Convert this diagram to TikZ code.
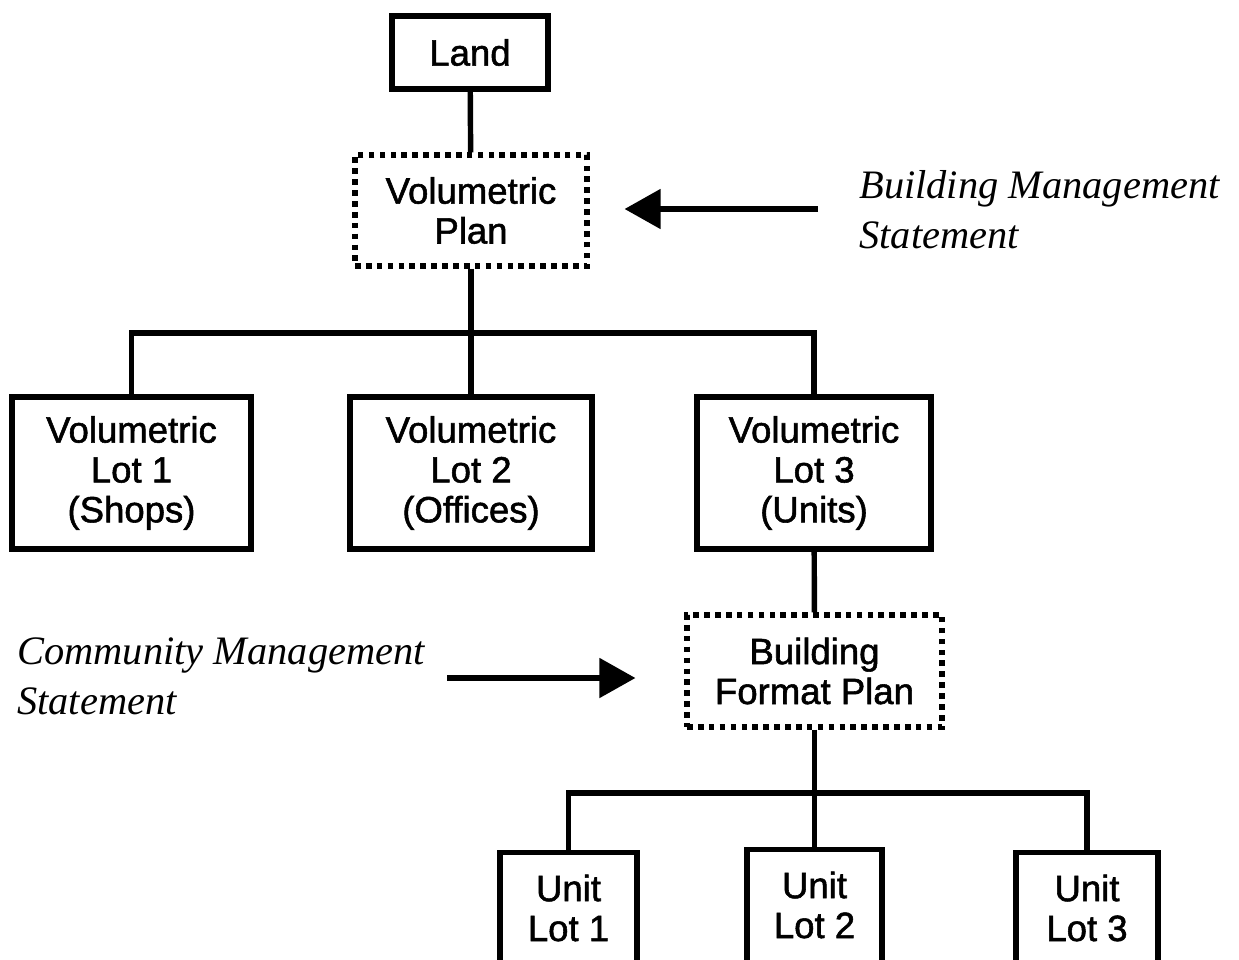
\documentclass[tikz,border=0pt]{standalone}
\usepackage{fontspec}
\setmainfont{Liberation Serif}
\setsansfont{Liberation Sans}
\newfontfamily\lblfont{Liberation Sans}[FakeBold=1.5]
\usetikzlibrary{arrows.meta}
\begin{document}
\begin{tikzpicture}[x=0.02cm,y=-0.02cm,
  lbl/.style={font=\lblfont\fontsize{20.8}{22.7}\selectfont, align=center},
  box/.style={lbl, draw, line width=2.9pt, inner sep=0pt},
  plan/.style={box, line width=3pt, dash pattern=on 3.2pt off 3pt},
  link/.style={line width=3.1pt},
  note/.style={font=\itshape\fontsize{23}{28.3}\selectfont, align=left, inner sep=0pt, anchor=west},
  arr/.style={line width=2.9pt, -{Triangle[length=0.72cm,width=0.78cm]}}]
\useasboundingbox (0,0) rectangle (1239,959);
\clip (0,0) rectangle (1239,959);

% top of the hierarchy
\node[box, minimum width=3.12cm, minimum height=1.46cm] (land) at (470,52.5) {Land};
\node[plan, minimum width=4.64cm, minimum height=2.22cm] (vp) at (471,210.5) {Volumetric\\Plan};

% volumetric lots
\node[box, minimum width=4.78cm, minimum height=3.04cm] (vl1) at (131.5,473) {Volumetric\\Lot 1\\(Shops)};
\node[box, minimum width=4.84cm, minimum height=3.04cm] (vl2) at (471,473) {Volumetric\\Lot 2\\(Offices)};
\node[box, minimum width=4.68cm, minimum height=3.04cm] (vl3) at (814,473) {Volumetric\\Lot 3\\(Units)};

% building format plan
\node[plan, minimum width=5.10cm, minimum height=2.24cm] (bfp) at (814.5,671) {Building\\Format Plan};

% unit lots (running off the lower edge)
\node[box, anchor=north, minimum width=2.74cm, minimum height=3cm] (u1) at (568.5,850) {};
\node[box, anchor=north, minimum width=2.70cm, minimum height=3cm] (u2) at (814.5,847) {};
\node[box, anchor=north, minimum width=2.84cm, minimum height=3cm] (u3) at (1087,850) {};
\node[lbl] (u1t) at (568.5,908) {Unit\\Lot 1};
\node[lbl] (u2t) at (814.5,905) {Unit\\Lot 2};
\node[lbl] (u3t) at (1087,908) {Unit\\Lot 3};

% statements
\node[note] (bms) at (859,210) {Building Management\\Statement};
\node[note] (cms) at (17,676) {Community Management\\Statement};

% tree connectors
\coordinate (j1) at (471,333);
\coordinate (j2) at (814.5,793);
\draw[link] (land) -- (vp);
\draw[link] (vp) -- (j1);
\draw[link] (vl1.north) |- (j1) -| (vl3.north);
\draw[link] (j1) -- (vl2);
\draw[link] (vl3) -- (bfp);
\draw[link] (bfp) -- (j2);
\draw[link] (u1.north) |- (j2) -| (u3.north);
\draw[link] (j2) -- (u2.north);

% statement arrows
\coordinate (bmsa) at (818,209);
\coordinate (cmsa) at (447,678);
\draw[arr, shorten >=0.7cm] (bmsa) -- (bmsa -| vp.east);
\draw[arr, shorten >=0.98cm] (cmsa) -- (cmsa -| bfp.west);
\end{tikzpicture}
\end{document}
